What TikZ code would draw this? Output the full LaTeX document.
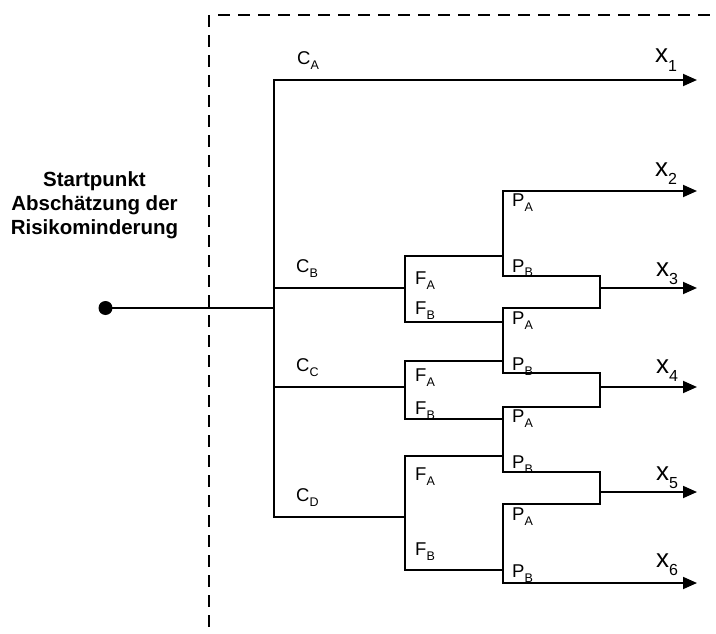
\documentclass[tikz,border=0pt]{standalone}
\usepackage{fontspec}
\setmainfont{Liberation Sans}
\usetikzlibrary{arrows.meta}
\newcommand{\lab}[2]{#1\raisebox{-5pt}{\fontsize{12.5}{12.5}\selectfont #2}}
\newcommand{\xlab}[1]{x\raisebox{-8.5pt}{\fontsize{16}{16}\selectfont #1}}
\begin{document}
\begin{tikzpicture}[x=1pt,y=-1pt,
  wire/.style={line width=1.8pt,line cap=rect},
  arr/.style={line width=1.8pt,-{Triangle[length=14pt,width=12pt]}},
  frame/.style={line width=1.4pt,dash pattern=on 12pt off 8pt},
  lbl/.style={anchor=base west,inner sep=0pt,font=\fontsize{18.5}{20}\selectfont},
  xl/.style={anchor=base west,inner sep=0pt,font=\fontsize{26}{28}\selectfont},
  start/.style={align=center,font=\fontsize{20.5}{23.7}\selectfont\bfseries,inner sep=0pt,anchor=base}]
\useasboundingbox (0,0) rectangle (716,634);
% frame
\coordinate (fc) at (209,15);
\coordinate (fb) at (209,634);
\coordinate (fh) at (218,15);
\coordinate (fr) at (716,15);
\draw[frame] (fc) -- (fb);
\draw[frame] (fh) -- (fr);
% start
\node[start] (txt) at (94.5,234) {Startpunkt\\Abschätzung der\\Risikominderung};
\coordinate (s) at (105.5,308);
\coordinate (t) at (274,308);
\fill (s) circle (7pt);
% trunk and C levels
\coordinate (tA) at (274,80);
\coordinate (tB) at (274,288);
\coordinate (tC) at (274,387);
\coordinate (tD) at (274,517);
\coordinate (eA) at (697,80);
\draw[wire] (s) -- (t);
\draw[wire] (tA) -- (tD);
\draw[arr] (tA) -- (eA);
% F junctions
\coordinate (fB) at (405,288);
\coordinate (fBa) at (405,256);
\coordinate (fBb) at (405,322);
\coordinate (fC) at (405,387);
\coordinate (fCa) at (405,361);
\coordinate (fCb) at (405,419);
\coordinate (fD) at (405,517);
\coordinate (fDa) at (405,456);
\coordinate (fDb) at (405,570);
\draw[wire] (tB) -- (fB);
\draw[wire] (tC) -- (fC);
\draw[wire] (tD) -- (fD);
\draw[wire] (fBa) -- (fBb);
\draw[wire] (fCa) -- (fCb);
\draw[wire] (fDa) -- (fDb);
% P groups
\coordinate (p1a) at (503,191);
\coordinate (p1b) at (503,276);
\coordinate (p1in) at (503,256);
\coordinate (p2a) at (503,308);
\coordinate (p2b) at (503,373);
\coordinate (p2in1) at (503,322);
\coordinate (p2in2) at (503,361);
\coordinate (p3a) at (503,407);
\coordinate (p3b) at (503,472);
\coordinate (p3in1) at (503,419);
\coordinate (p3in2) at (503,456);
\coordinate (p4a) at (503,504);
\coordinate (p4b) at (503,583);
\coordinate (p4in) at (503,570);
\draw[wire] (fBa) -- (p1in);
\draw[wire] (fBb) -- (p2in1);
\draw[wire] (fCa) -- (p2in2);
\draw[wire] (fCb) -- (p3in1);
\draw[wire] (fDa) -- (p3in2);
\draw[wire] (fDb) -- (p4in);
\draw[wire] (p1a) -- (p1b);
\draw[wire] (p2a) -- (p2b);
\draw[wire] (p3a) -- (p3b);
\draw[wire] (p4a) -- (p4b);
% merges
\coordinate (m1a) at (600,276);
\coordinate (m1b) at (600,308);
\coordinate (m1) at (600,288);
\coordinate (m2a) at (600,373);
\coordinate (m2b) at (600,407);
\coordinate (m2) at (600,387);
\coordinate (m3a) at (600,472);
\coordinate (m3b) at (600,504);
\coordinate (m3) at (600,492);
\draw[wire] (p1b) -- (m1a) -- (m1b) -- (p2a);
\draw[wire] (p2b) -- (m2a) -- (m2b) -- (p3a);
\draw[wire] (p3b) -- (m3a) -- (m3b) -- (p4a);
% outputs
\coordinate (e2) at (697,191);
\coordinate (e3) at (697,288);
\coordinate (e4) at (697,387);
\coordinate (e5) at (697,492);
\coordinate (e6) at (697,583);
\draw[arr] (p1a) -- (e2);
\draw[arr] (m1) -- (e3);
\draw[arr] (m2) -- (e4);
\draw[arr] (m3) -- (e5);
\draw[arr] (p4b) -- (e6);
% labels
\node[lbl] (cA) at (297,64.5) {\lab{C}{A}};
\node[lbl] (cB) at (296,272.5) {\lab{C}{B}};
\node[lbl] (cC) at (296,371) {\lab{C}{C}};
\node[lbl] (cD) at (296,501.5) {\lab{C}{D}};
\node[lbl] (fAB) at (415,284) {\lab{F}{A}};
\node[lbl] (fBB) at (415,314) {\lab{F}{B}};
\node[lbl] (fAC) at (415,381.7) {\lab{F}{A}};
\node[lbl] (fBC) at (415,414) {\lab{F}{B}};
\node[lbl] (fAD) at (415,480) {\lab{F}{A}};
\node[lbl] (fBD) at (415,555) {\lab{F}{B}};
\node[lbl] (pA1) at (512,207) {\lab{P}{A}};
\node[lbl] (pB1) at (512,272) {\lab{P}{B}};
\node[lbl] (pA2) at (512,324.3) {\lab{P}{A}};
\node[lbl] (pB2) at (512,370.5) {\lab{P}{B}};
\node[lbl] (pA3) at (512,422) {\lab{P}{A}};
\node[lbl] (pB3) at (512,468.3) {\lab{P}{B}};
\node[lbl] (pA4) at (512,520.5) {\lab{P}{A}};
\node[lbl] (pB4) at (512,577) {\lab{P}{B}};
\node[xl] (x1) at (655,63) {\xlab{1}};
\node[xl] (x2) at (655,176.5) {\xlab{2}};
\node[xl] (x3) at (656,276) {\xlab{3}};
\node[xl] (x4) at (656,373.3) {\xlab{4}};
\node[xl] (x5) at (656,480) {\xlab{5}};
\node[xl] (x6) at (656,567.3) {\xlab{6}};
\end{tikzpicture}
\end{document}
